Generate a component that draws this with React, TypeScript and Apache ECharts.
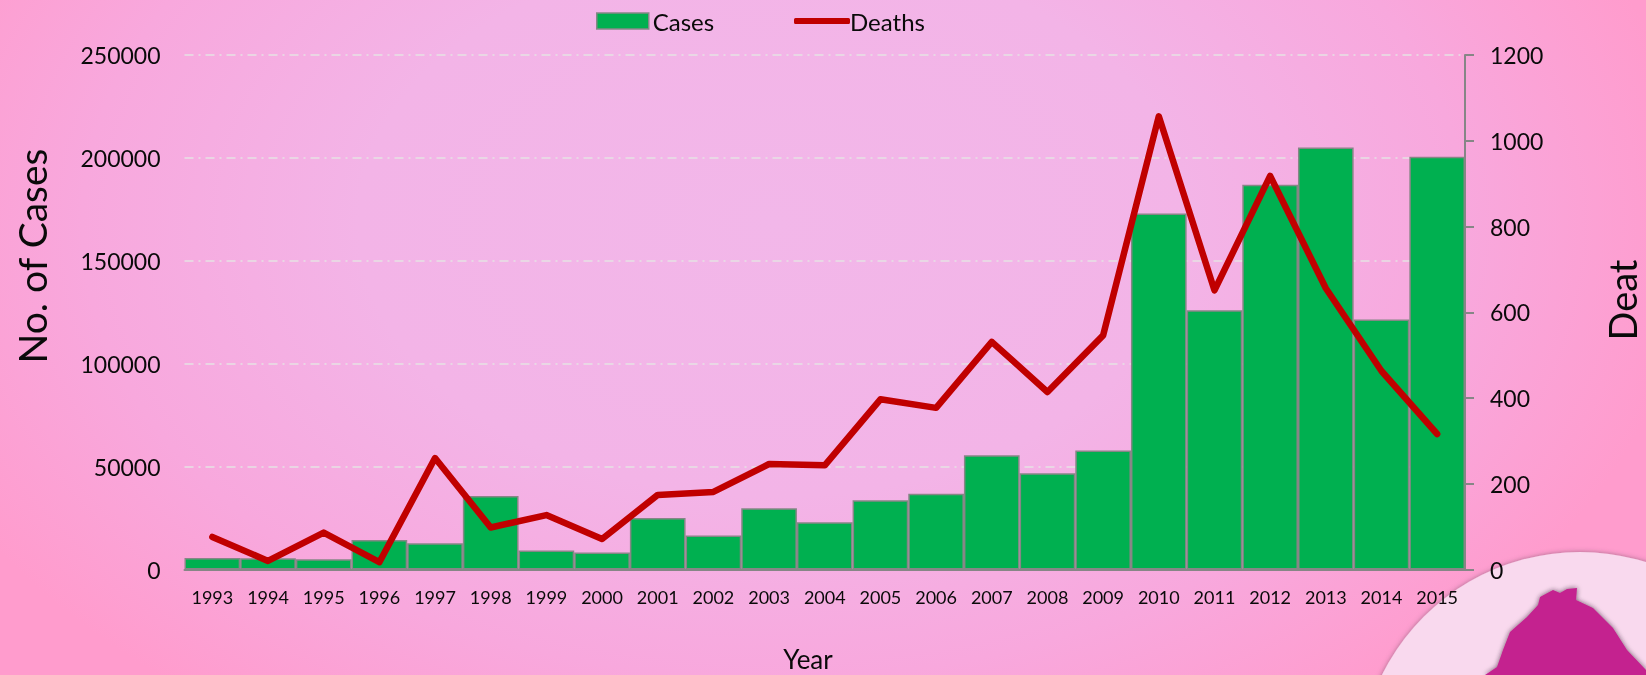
import React, { useEffect, useRef } from "react";
import * as echarts from "echarts";

const years = ["1993","1994","1995","1996","1997","1998","1999","2000","2001","2002","2003","2004","2005","2006","2007","2008","2009","2010","2011","2012","2013","2014","2015"];
const cases = [5600,5500,5000,14300,12700,35700,9200,8200,25000,16500,29800,23000,33700,36800,55500,46800,57800,173000,126000,187000,205000,121500,200500];
const deaths = [76,20,86,17,260,98,127,71,174,181,246,243,397,377,531,414,546,1057,651,918,656,463,316];

const FONT = "Lato";
const INK = "#0a0a0a";
const GREY = "#868686";
const plain = (v: number) => String(v);

// Silhouette of the badge emblem, clipped by the page's lower edge.
const emblem = [
  [1540,597],[1553,590],[1560,593],[1567,589],[1577,588],[1576,600],
  [1593,608],[1613,628],[1627,650],[1646,670],[1646,675],
  [1485,675],[1497,667],[1503,650],[1510,632],[1527,617],[1538,605],
];

export default function App() {
  const ref = useRef<HTMLDivElement>(null);
  useEffect(() => {
    const chart = echarts.init(ref.current!, null, { renderer: "svg" });
    chart.setOption({
      animation: false,
      textStyle: { fontFamily: FONT, color: INK },
      legend: [
        {
          left: 591, top: 4, itemWidth: 52, itemHeight: 16, icon: "rect",
          data: ["Cases"],
          itemStyle: { color: "#00B050", borderColor: GREY, borderWidth: 1.5 },
          textStyle: { fontFamily: FONT, fontSize: 24, color: INK, padding: [0, 0, 0, -1] },
        },
        {
          left: 789, top: 4, itemWidth: 56, itemHeight: 6, icon: "roundRect",
          data: ["Deaths"],
          itemStyle: { color: "#C00000", borderWidth: 0 },
          textStyle: { fontFamily: FONT, fontSize: 24, color: INK, padding: [0, 0, 0, -5] },
        },
      ],
      grid: { left: 184.5, right: 181, top: 55, height: 514.5 },
      xAxis: {
        type: "category", data: years, z: 6,
        axisLine: { lineStyle: { color: GREY, width: 2 } },
        axisTick: { show: false },
        axisLabel: { fontSize: 18, color: INK, margin: 18, fontFamily: FONT, interval: 0 },
      },
      yAxis: [
        {
          type: "value", min: 0, max: 250000, interval: 50000, z: 2,
          axisLine: { show: false }, axisTick: { show: false },
          axisLabel: { fontSize: 23, color: INK, margin: 24, fontFamily: FONT, formatter: plain },
          splitLine: { lineStyle: { color: "#E6E2E4", width: 1.5, type: [9, 5, 2, 5] } },
        },
        {
          type: "value", min: 0, max: 1200, interval: 200, position: "right", z: 6,
          axisLine: { show: true, lineStyle: { color: GREY, width: 2 } },
          axisTick: { show: true, length: 9, lineStyle: { color: GREY, width: 2 } },
          axisLabel: { fontSize: 23, color: INK, margin: 25, fontFamily: FONT, formatter: plain },
          splitLine: { show: false },
        },
      ],
      series: [
        {
          name: "Cases", type: "bar", data: cases, barWidth: "100%", z: 3,
          itemStyle: { color: "#00B050", borderColor: GREY, borderWidth: 1.5 },
        },
        {
          name: "Deaths", type: "line", yAxisIndex: 1, data: deaths, symbol: "none", z: 4,
          lineStyle: { color: "#C00000", width: 6.5, cap: "round", join: "round" },
          itemStyle: { color: "#C00000" },
        },
      ],
      graphic: [
        { type: "circle", z: 1, shape: { cx: 1580, cy: 773, r: 221 },
          style: { fill: "#F9D9EE", shadowBlur: 5, shadowColor: "rgba(90,60,80,0.55)" } },
        { type: "polygon", z: 1, shape: { points: emblem },
          style: { fill: "#C4218F", shadowBlur: 5, shadowColor: "rgba(40,30,40,0.7)" } },
        { type: "text", z: 7, x: 32, y: 256, rotation: Math.PI / 2,
          style: { text: "No. of Cases", font: `39px ${FONT}`, fill: INK, align: "center", verticalAlign: "middle" } },
        { type: "text", z: 7, x: 1622, y: 300, rotation: Math.PI / 2,
          style: { text: "Deat", font: `38px ${FONT}`, fill: INK, align: "center", verticalAlign: "middle" } },
        { type: "text", z: 7, x: 808, y: 659,
          style: { text: "Year", font: `26px ${FONT}`, fill: INK, align: "center", verticalAlign: "middle" } },
      ],
    });
    return () => chart.dispose();
  }, []);
  return (
    <div
      ref={ref}
      style={{
        position: "fixed", left: 0, top: 0, width: 1646, height: 675,
        background: "radial-gradient(ellipse 56% 90% at 47% 33%, #F2B7E9 0%, #F3B4E7 45%, #F8A8DD 75%, #FF9CCD 100%)",
      }}
    />
  );
}
